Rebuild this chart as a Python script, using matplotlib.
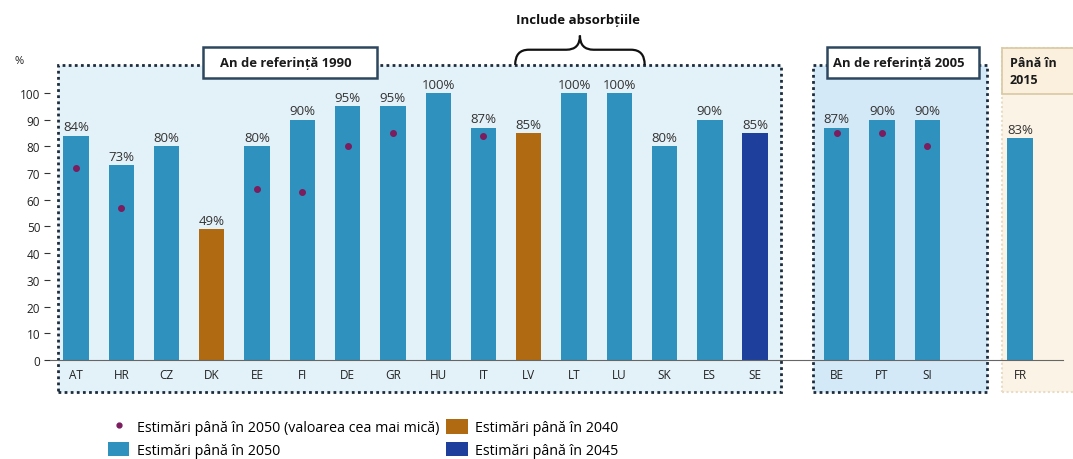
import matplotlib.pyplot as plt
from matplotlib.patches import Rectangle, PathPatch
from matplotlib.path import Path
from matplotlib.lines import Line2D
from matplotlib.patches import Patch
import numpy as np

plt.rcParams['font.family'] = ['Open Sans', 'DejaVu Sans']

# data
countries_1990 = ['AT', 'HR', 'CZ', 'DK', 'EE', 'FI', 'DE', 'GR', 'HU', 'IT', 'LV', 'LT', 'LU', 'SK', 'ES', 'SE']
countries_2005 = ['BE', 'PT', 'SI']
countries_2015 = ['FR']
targets = [84, 73, 80, 49, 80, 90, 95, 95, 100, 87, 85, 100, 100, 80, 90, 85, 87, 90, 90, 83]
lowest = [72, 57, None, None, 64, 63, 80, 85, None, 84, None, None, None, None, None, None, 85, 85, 80, None]
horizon = ['2050', '2050', '2050', '2040', '2050', '2050', '2050', '2050', '2050', '2050',
           '2040', '2050', '2050', '2050', '2050', '2045', '2050', '2050', '2050', '2050']

colors = {'2050': '#2f91bd', '2040': '#b06a12', '2045': '#1f3f9c'}
dot_color = '#7b1d5e'

# positions: groups separated by gaps
pos = list(np.arange(len(countries_1990)))
pos += list(pos[-1] + 1.8 + np.arange(len(countries_2005)))
pos += list(pos[-1] + 2.05 + np.arange(len(countries_2015)))
pos = np.array(pos)
labels = countries_1990 + countries_2005 + countries_2015

fig = plt.figure(figsize=(10.73, 4.6), dpi=100)
ax = fig.add_axes([50/1073, 0, 1 - 50/1073, 1])
ax.set_xlim(-0.574, 22.02)
ax.set_ylim(-37.1, 135.2)

# group backgrounds
box_bot, box_top = -12, 110.5
ax.add_patch(Rectangle((-0.40, box_bot), 15.97, box_top - box_bot, facecolor='#e3f1f8',
                       edgecolor='#1d2c3c', ls=(0, (1, 1.2)), lw=2, zorder=0))
ax.add_patch(Rectangle((16.28, box_bot), 3.84, box_top - box_bot, facecolor='#d4e9f7',
                       edgecolor='#1d2c3c', ls=(0, (1, 1.2)), lw=2, zorder=0))
ax.add_patch(Rectangle((20.45, box_bot), 2.0, 117 - box_bot, facecolor='#fbf3e6',
                       edgecolor='#e8dcc4', ls=(0, (1, 1.2)), lw=1.5, zorder=0))

# title boxes
for x0, x1, txt in [(2.805, 6.65, 'An de referință 1990'), (16.59, 19.95, 'An de referință 2005')]:
    ax.add_patch(Rectangle((x0, 105.6), x1 - x0, 11.6, facecolor='white', edgecolor='#2d475e',
                           lw=1.8, zorder=4))
    ax.text((x0 + x1) / 2 - 0.1, 111.4, txt, fontsize=9.4, fontweight='bold', va='center', ha='center',
            color='#1a1a1a', zorder=5)
ax.add_patch(Rectangle((20.45, 99.6), 2.0, 17.4, facecolor='#faf0dd', edgecolor='#d9c9a3', lw=1.2, zorder=4))
ax.text(20.62, 108.3, 'Până în\n2015', fontsize=9, fontweight='bold', va='center', ha='left',
        color='#1a1a1a', zorder=5, linespacing=1.35)

# bars
for x, v, h in zip(pos, targets, horizon):
    ax.bar(x, v, width=0.56, color=colors[h], zorder=2)
    ax.text(x, v + 0.9, f'{v}%', ha='center', va='bottom', fontsize=9.5, color='#333333', zorder=3)

for x, v in zip(pos, lowest):
    if v is not None:
        ax.plot(x, v, 'o', ms=4, color=dot_color, zorder=3)

# brace over LV..LU
cx = (pos[labels.index('LV')] + pos[labels.index('LU')]) / 2 + 0.13
hw = 1.43
yb, ym, yt = 110.5, 116.2, 121.5
verts = [(cx - hw, yb), (cx - hw, ym), (cx - hw + 0.3, ym),
         (cx - 0.3, ym), (cx, ym), (cx, yt),
         (cx, yt), (cx, ym), (cx + 0.3, ym),
         (cx + hw - 0.3, ym), (cx + hw, ym), (cx + hw, yb)]
codes = [Path.MOVETO, Path.CURVE3, Path.CURVE3,
         Path.LINETO, Path.CURVE3, Path.CURVE3,
         Path.MOVETO, Path.CURVE3, Path.CURVE3,
         Path.LINETO, Path.CURVE3, Path.CURVE3]
ax.add_patch(PathPatch(Path(verts, codes), facecolor='none', edgecolor='#111111', lw=1.6, zorder=5,
                       clip_on=False))
ax.text(cx - 0.05, 127.5, 'Include absorbțiile', ha='center', va='center', fontsize=9.5, fontweight='bold',
        color='#111111')

# axes
for s in ['top', 'right']:
    ax.spines[s].set_visible(False)
ax.spines['bottom'].set_position(('data', 0))
ax.spines['bottom'].set_bounds(-0.574, 21.8)
ax.spines['bottom'].set_color('#666666')
ax.spines['left'].set_visible(False)
ax.set_yticks(np.arange(0, 101, 10))
ax.tick_params(axis='y', length=4, color='#333333', labelsize=8.5, labelcolor='#222222', pad=3, direction='out')
ax.set_xticks(pos)
ax.set_xticklabels(labels)
ax.tick_params(axis='x', length=0, labelsize=8.5, labelcolor='#222222', pad=6)
ax.text(-1.25, 112, '%', fontsize=8, ha='center', va='center', color='#222222', clip_on=False)

# legend
handles = [Line2D([], [], marker='o', ls='none', ms=3.5, color=dot_color),
           Patch(facecolor=colors['2050']),
           Patch(facecolor=colors['2040']),
           Patch(facecolor=colors['2045'])]
names = ['Estimări până în 2050 (valoarea cea mai mică)', 'Estimări până în 2050',
         'Estimări până în 2040', 'Estimări până în 2045']
fig.legend(handles, names, ncol=2, loc='upper left', bbox_to_anchor=(98/1073, 1 - 410/460),
           frameon=False, handlelength=1.5, handleheight=1.2, handletextpad=0.5,
           columnspacing=0.5, labelspacing=0.45, borderpad=0.2, prop={'size': 10.3})

fig.savefig('out.png', dpi=100)
